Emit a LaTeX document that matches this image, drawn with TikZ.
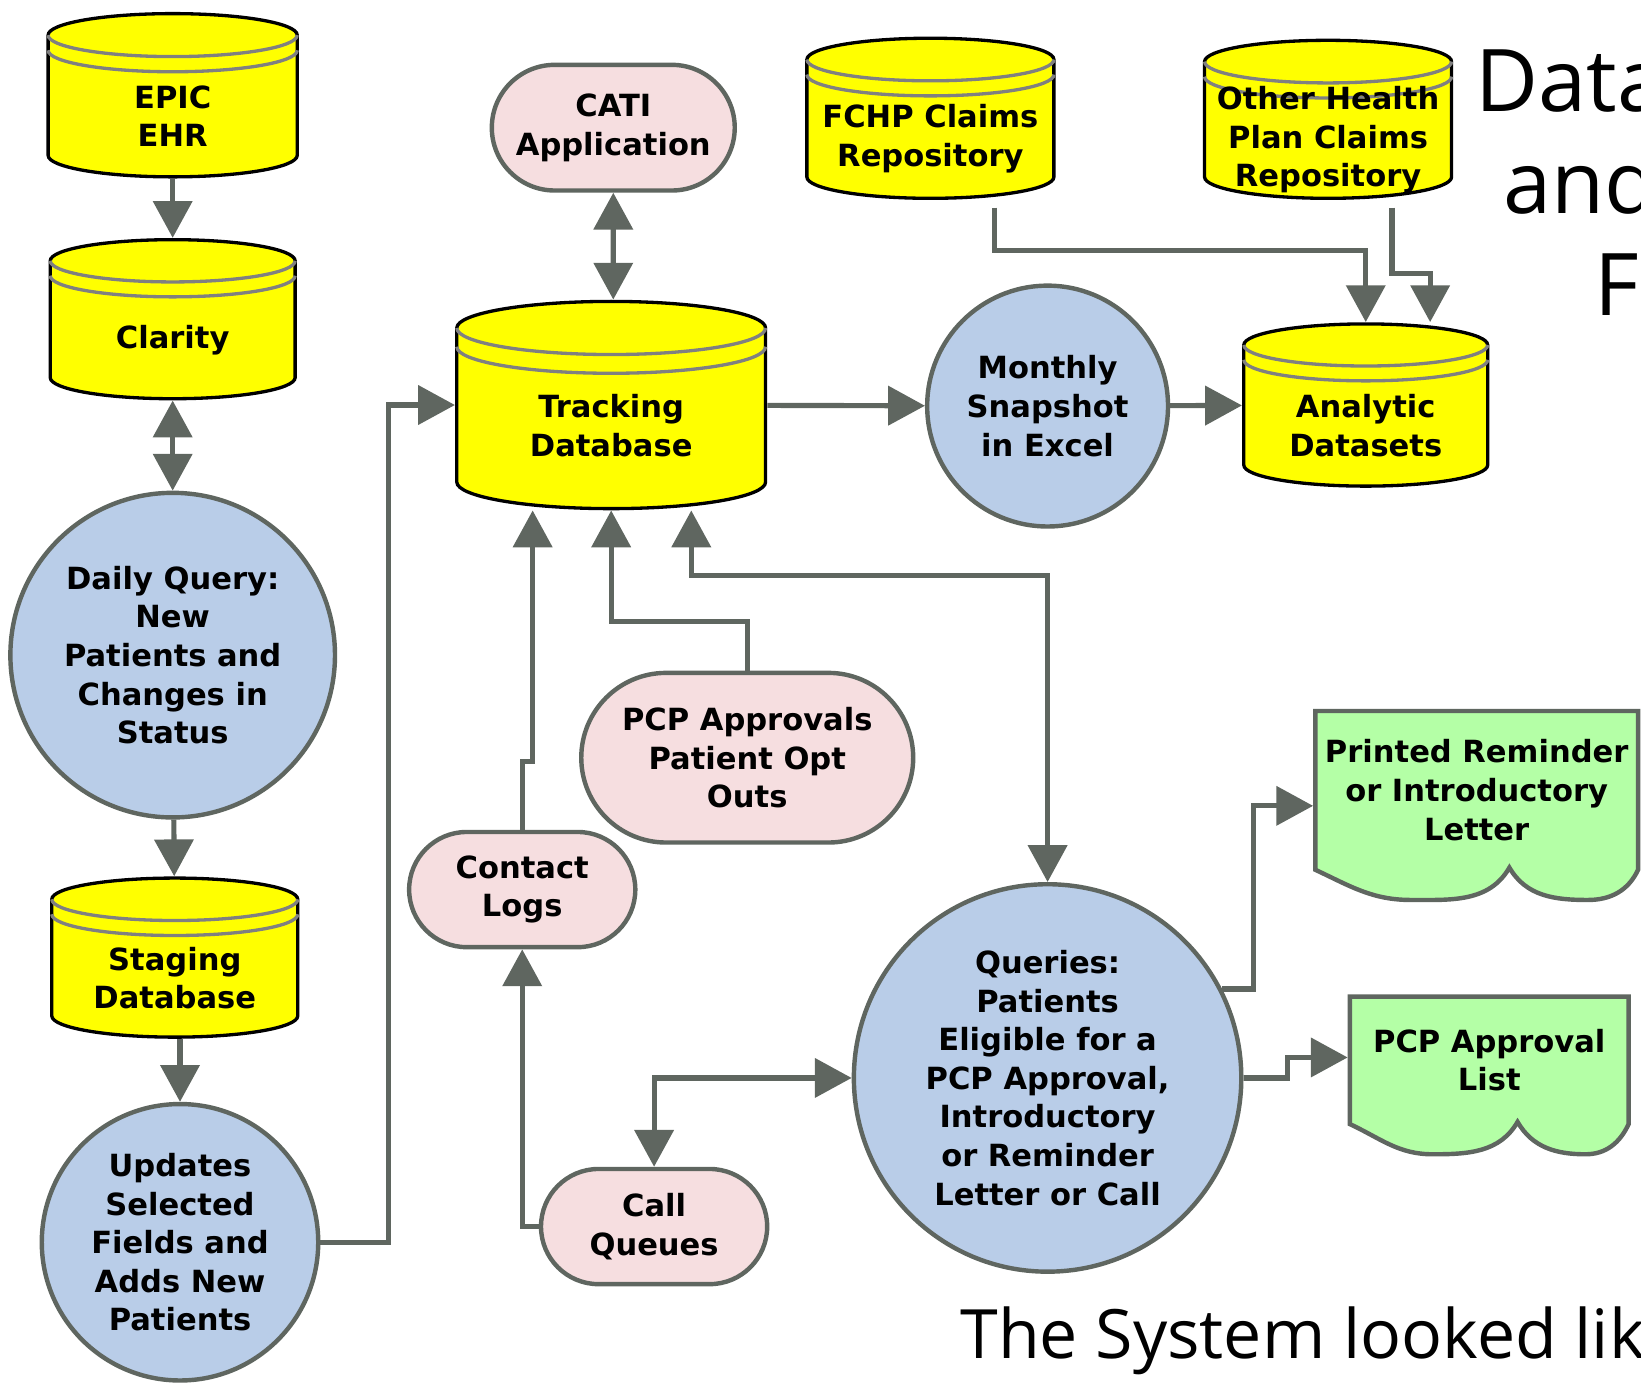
\documentclass[tikz,border=0pt]{standalone}
\usepackage{fontspec}
\setmainfont{DejaVu Sans}
\newfontfamily\titlefont{Open Sans}
\usetikzlibrary{
  arrows.meta,
  calc,
  positioning,
  backgrounds,
  shapes.misc
}

\definecolor{dbyellow}{RGB}{255,255,0}
\definecolor{procblue}{RGB}{185,205,232}
\definecolor{pillpink}{RGB}{246,222,224}
\definecolor{docgreen}{RGB}{180,255,166}
\definecolor{linegray}{RGB}{95,102,96}
\definecolor{rimgray}{RGB}{128,128,128}

\begin{document}
\begin{tikzpicture}[
  x=0.01cm, y=-0.01cm,
  every node/.style={font=\fontsize{8.3}{10.5}\selectfont\bfseries, align=center, inner sep=0pt},
  dbase/.style 2 args={minimum width=#1cm, minimum height=#2cm},
  doc/.style 2 args={minimum width=#1cm, minimum height=#2cm, text depth=8.6pt},
  proc/.style={circle, draw=linegray, fill=procblue, line width=1.2pt, minimum size=#1},
  pill/.style 2 args={rounded rectangle, draw=linegray, fill=pillpink, line width=1.2pt,
    minimum width=#1cm, minimum height=#2cm},
  arrow/.style={-{Triangle[length=10pt,width=10.5pt]}, linegray, line width=1.4pt},
  twoway/.style={{Triangle[length=10pt,width=10.5pt]}-{Triangle[length=10pt,width=10.5pt]}, linegray, line width=1.4pt}
]
\useasboundingbox (0,0) rectangle (1568,1321);

% left column
\node[dbase={2.40}{1.58}] (epic) at (165,91) {\\[7pt]EPIC\\EHR};
\node[dbase={2.36}{1.54}] (clarity) at (165,305) {\\[7pt]Clarity};
\node[proc=3.10cm] (daily) at (165,626) {Daily Query:\\New\\Patients and\\Changes in\\Status};
\node[dbase={2.37}{1.54}] (staging) at (167,915) {\\[7pt]Staging\\Database};
\node[proc=2.64cm] (updates) at (172,1187) {Updates\\Selected\\Fields and\\Adds New\\Patients};

% middle
\node[pill={2.32}{1.20}] (cati) at (586,122) {CATI\\Application};
\node[dbase={2.97}{2.00}] (tracking) at (584,387) {\\[7pt]Tracking\\Database};
\node[pill={3.17}{1.62}] (pcp) at (714,724) {PCP Approvals\\Patient Opt\\Outs};
\node[pill={2.16}{1.10}] (contact) at (499,850) {Contact\\Logs};
\node[pill={2.16}{1.10}] (callq) at (625,1172) {Call\\Queues};

% claims and analysis
\node[dbase={2.38}{1.55}] (fchp) at (889,113) {\\[7pt]FCHP Claims\\Repository};
\node[dbase={2.38}{1.53}] (other) at (1269,114) {\\[7pt]Other Health\\Plan Claims\\Repository};
\node[proc=2.30cm] (monthly) at (1001,388) {Monthly\\Snapshot\\in Excel};
\node[dbase={2.35}{1.57}] (analytic) at (1305,387) {\\[7pt]Analytic\\Datasets};

% outreach
\node[proc=3.70cm] (queries) at (1001,1030) {Queries:\\Patients\\Eligible for a\\PCP Approval,\\Introductory\\or Reminder\\Letter or Call};
\node[doc={3.11}{1.84}] (letter) at (1411,770) {Printed Reminder\\or Introductory\\Letter};
\node[doc={2.69}{1.54}] (list) at (1423,1028) {PCP Approval\\List};

% slide text
\node[font=\titlefont\fontsize{23.5}{28}\selectfont, anchor=base west] (title1) at (1409,107) {Data};
\node[font=\titlefont\fontsize{23.5}{28}\selectfont, anchor=base west] (title2) at (1436,204) {and};
\node[font=\titlefont\fontsize{23.5}{28}\selectfont, anchor=base west] (title3) at (1523,301) {F};
\node[font=\titlefont\fontsize{18.5}{22}\selectfont, anchor=base west] (caption) at (917,1298) {The System looked lik};

% cylinders and documents behind the texts
\begin{scope}[on background layer]
\foreach \db in {epic,clarity,staging,tracking,fchp,other,analytic} {
  \filldraw[fill=dbyellow, draw=black, line width=0.9pt]
    let \p1=(\db.south west), \p2=(\db.north east),
        \n1={(\x2-\x1)/2-0.5pt}, \n2={0.085*(\x2-\x1)} in
    (\x1+0.5pt, \y2-0.5pt-\n2) -- (\x1+0.5pt, \y1+0.5pt+\n2)
    arc[start angle=180, end angle=360, x radius=\n1, y radius=\n2]
    -- (\x2-0.5pt, \y2-0.5pt-\n2)
    arc[start angle=0, end angle=180, x radius=\n1, y radius=\n2] -- cycle;
  \draw[rimgray, line width=0.9pt]
    let \p1=(\db.south west), \p2=(\db.north east),
        \n1={(\x2-\x1)/2-0.5pt}, \n2={0.085*(\x2-\x1)}, \n3={0.06*(\x2-\x1)} in
    (\x1+0.5pt, \y2-0.5pt-\n2) arc[start angle=180, end angle=360, x radius=\n1, y radius=\n2]
    (\x1+0.5pt, \y2-0.5pt-\n2-\n3) arc[start angle=180, end angle=360, x radius=\n1, y radius=\n2];
}
\foreach \dc in {letter,list} {
  \filldraw[fill=docgreen, draw=linegray, line width=1.2pt]
    let \p1=(\dc.south west), \p2=(\dc.north east), \n1={\x2-\x1} in
    (\x1+0.6pt, \y2-0.6pt) -- (\x2-0.6pt, \y2-0.6pt) -- (\x2-0.6pt, \y1+9pt)
    to[out=-115, in=0] (\x1+0.84*\n1, \y1+0.8pt)
    to[out=180, in=-60] (\x1+0.6*\n1, \y1+9.6pt)
    to[out=-120, in=0] (\x1+0.3*\n1, \y1+0.8pt)
    to[out=180, in=-25] (\x1+0.6pt, \y1+9pt) -- cycle;
}
\end{scope}

\draw[arrow] (epic) -- (clarity);
\draw[twoway] (clarity) -- (daily);
\draw[arrow] (daily) -- (staging);
\draw[arrow] (staging.south -| updates) -- (updates);
\draw[arrow] (updates.east) -- ++(65,0) |- (tracking.west);
\draw[twoway] (cati) -- (cati |- tracking.north);
\draw[arrow] (tracking) -- (monthly);
\draw[arrow] (monthly) -- (analytic);
\draw[arrow] ([xshift=0.61cm,yshift=-2pt]fchp.south) -- ++(0,41) -| (analytic.north);
\draw[arrow] ([xshift=0.61cm,yshift=-2pt]other.south) -- ++(0,63) -| ([xshift=0.615cm]analytic.north);
\draw[arrow] (contact.north) -- ++(0,-65) -| ([xshift=-0.75cm]tracking.south);
\draw[arrow] (pcp.north) -- ++(0,-47) -| (tracking.south);
\draw[twoway] ([xshift=0.765cm]tracking.south) -- ++(0,62) -| (queries.north);
\draw[arrow] (callq.west) -| (contact.south);
\draw[twoway] (queries.west) -| (callq.north);
\draw[arrow] (queries.27) -- ++(30,0) |- (letter.west);
\draw[arrow] (queries.east) -- ++(42,0) |- ([yshift=5pt]list.west);
\end{tikzpicture}
\end{document}
